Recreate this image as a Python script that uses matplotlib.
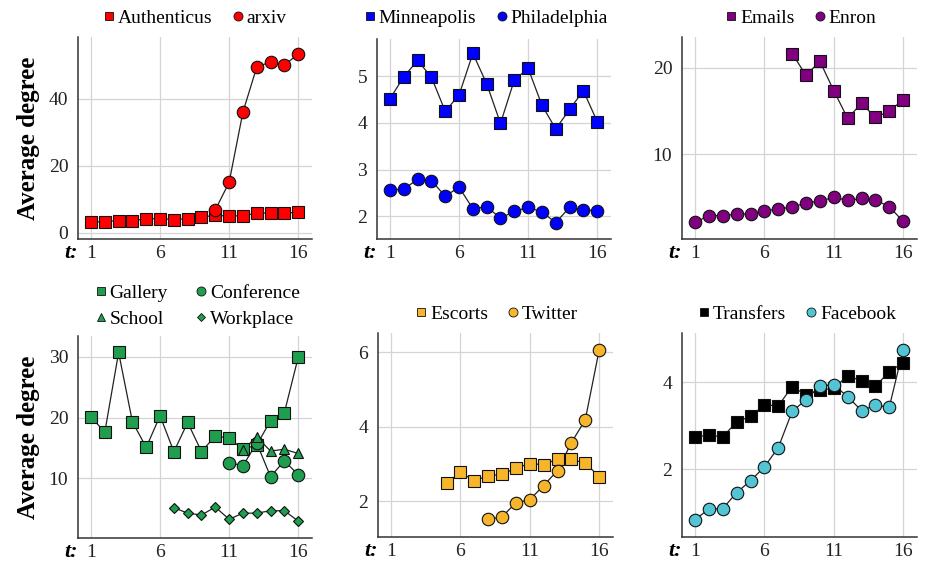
import matplotlib
matplotlib.use("Agg")
import matplotlib.pyplot as plt
from matplotlib.lines import Line2D

plt.rcParams['font.family'] = ['Liberation Serif', 'DejaVu Serif']

t = list(range(1, 17))

authenticus = [3.2, 3.4, 3.7, 3.7, 4.2, 4.3, 4.0, 4.3, 4.7, 5.3, 5.0, 5.2, 5.9, 6.0, 5.9, 6.2]
arxiv_t = [10, 11, 12, 13, 14, 15, 16]
arxiv = [6.9, 15.1, 36.1, 49.5, 51.1, 50.1, 53.4]

minneapolis = [4.52, 4.99, 5.34, 4.98, 4.25, 4.60, 5.49, 4.84, 3.99, 4.92, 5.17, 4.38, 3.87, 4.29, 4.69, 4.03]
philadelphia = [2.56, 2.58, 2.79, 2.76, 2.43, 2.62, 2.16, 2.20, 1.96, 2.10, 2.19, 2.09, 1.86, 2.19, 2.13, 2.12]

emails_t = [8, 9, 10, 11, 12, 13, 14, 15, 16]
emails = [21.67, 19.15, 20.78, 17.36, 14.15, 15.89, 14.26, 14.96, 16.32]
enron = [2.05, 2.83, 2.83, 3.02, 3.02, 3.41, 3.60, 3.84, 4.30, 4.53, 4.96, 4.61, 4.84, 4.65, 3.88, 2.17]

gallery = [20.1, 17.6, 30.7, 19.3, 15.1, 20.3, 14.4, 19.2, 14.4, 17.0, 16.6, 14.8, 15.5, 19.5, 20.8, 29.9]
conference_t = [11, 12, 13, 14, 15, 16]
conference = [12.6, 12.1, 15.8, 10.3, 12.9, 10.6]
school_t = [12, 13, 14, 15, 16]
school = [14.75, 16.8, 14.5, 14.8, 14.1]
workplace_t = [7, 8, 9, 10, 11, 12, 13, 14, 15, 16]
workplace = [5.2, 4.3, 4.0, 5.3, 3.3, 4.3, 4.3, 4.7, 4.7, 3.0]

escorts_t = [5, 6, 7, 8, 9, 10, 11, 12, 13, 14, 15, 16]
escorts = [2.49, 2.77, 2.55, 2.68, 2.72, 2.89, 3.01, 2.98, 3.13, 3.12, 3.02, 2.66]
twitter_t = [8, 9, 10, 11, 12, 13, 14, 15, 16]
twitter = [1.51, 1.58, 1.96, 2.04, 2.42, 2.82, 3.57, 4.18, 6.05]

transfers = [2.75, 2.78, 2.75, 3.09, 3.22, 3.48, 3.46, 3.90, 3.71, 3.82, 3.86, 4.15, 4.03, 3.91, 4.24, 4.45]
facebook = [0.85, 1.09, 1.10, 1.47, 1.74, 2.06, 2.50, 3.33, 3.60, 3.92, 3.94, 3.67, 3.35, 3.47, 3.43, 4.74]

xticks = [1, 6, 11, 16]

RED = '#ff0000'
BLUE = '#0000ff'
PURPLE = '#800080'
GREEN = '#1f9e4f'
ORANGE = '#f7b52c'
CYAN = '#52c4d3'
BLACK = '#000000'

W, H = 925, 562
fig = plt.figure(figsize=(9.25, 5.62), dpi=100)

def make_ax(l, r, top, bot):
    return fig.add_axes([l / W, 1 - bot / H, (r - l) / W, (bot - top) / H])

boxes = [
    (78, 312, 37, 239),
    (377, 611, 39, 239),
    (682, 917, 37, 239),
    (78, 312, 336, 538),
    (378, 613, 333, 537),
    (682, 917, 333, 537),
]
axes = [make_ax(*b) for b in boxes]

def style(ax, ylim, yticks):
    ax.set_xlim(0.06, 17.0)
    ax.set_ylim(*ylim)
    ax.set_xticks(xticks)
    ax.set_yticks(yticks)
    ax.grid(True, color='#d4d4d4', linewidth=0.9)
    ax.set_axisbelow(True)
    for s in ['top', 'right']:
        ax.spines[s].set_visible(False)
    for s in ['left', 'bottom']:
        ax.spines[s].set_color('#333333')
        ax.spines[s].set_linewidth(1.1)
    ax.tick_params(axis='both', length=0, labelsize=14, colors='#222222')
    ax.tick_params(axis='y', pad=7)
    ax.tick_params(axis='x', pad=4)
    ax.annotate('t:', xy=(0, 0), xycoords='axes fraction', xytext=(0, -3),
                textcoords='offset points', ha='right', va='top',
                fontsize=16, fontweight='bold', fontstyle='italic')

def series(ax, x, y, color, marker, ms):
    ax.plot(x, y, color='#222222', linewidth=0.9, zorder=2)
    ax.plot(x, y, linestyle='none', marker=marker, markersize=ms,
            markerfacecolor=color, markeredgecolor='#111111',
            markeredgewidth=0.8, zorder=3)

def legend(ax, items, ncol, anchor, colsp=1.0, lsp=0.2):
    handles = [Line2D([], [], linestyle='none', marker=m, markersize=ms,
                      markerfacecolor=c, markeredgecolor='#111111',
                      markeredgewidth=0.6) for (_, c, m, ms) in items]
    labels = [lab for (lab, _, _, _) in items]
    ax.legend(handles, labels, ncol=ncol, loc='lower center',
              bbox_to_anchor=anchor, frameon=False, fontsize=14,
              handlelength=0.6, handletextpad=0.15, columnspacing=colsp,
              borderaxespad=0, labelspacing=lsp, borderpad=0)

SQ = 8.5
CI = 9
LY = 1.05

ax = axes[0]
style(ax, (-1.8, 58.5), [0, 20, 40])
series(ax, t, authenticus, RED, 's', SQ)
series(ax, arxiv_t, arxiv, RED, 'o', CI)
legend(ax, [('Authenticus', RED, 's', 6), ('arxiv', RED, 'o', 6.5)], 2, (0.5, LY))

ax = axes[1]
style(ax, (1.51, 5.8), [2, 3, 4, 5])
series(ax, t, minneapolis, BLUE, 's', SQ)
series(ax, t, philadelphia, BLUE, 'o', CI)
legend(ax, [('Minneapolis', BLUE, 's', 6), ('Philadelphia', BLUE, 'o', 6.5)], 2, (0.466, LY + 0.01))

ax = axes[2]
style(ax, (0.12, 23.6), [10, 20])
series(ax, emails_t, emails, PURPLE, 's', SQ)
series(ax, t, enron, PURPLE, 'o', CI)
legend(ax, [('Emails', PURPLE, 's', 6), ('Enron', PURPLE, 'o', 6.5)], 2, (0.506, LY))

ax = axes[3]
style(ax, (0.22, 33.4), [10, 20, 30])
series(ax, t, gallery, GREEN, 's', SQ)
series(ax, conference_t, conference, GREEN, 'o', CI)
series(ax, school_t, school, GREEN, '^', 7)
series(ax, workplace_t, workplace, GREEN, 'D', 5.5)
legend(ax, [('Gallery', GREEN, 's', 6), ('School', GREEN, '^', 5.5),
            ('Conference', GREEN, 'o', 6.5), ('Workplace', GREEN, 'D', 4.5)],
       2, (0.51, 1.04), colsp=1.4, lsp=0.45)

ax = axes[4]
style(ax, (1.04, 6.51), [2, 4, 6])
series(ax, escorts_t, escorts, ORANGE, 's', SQ)
series(ax, twitter_t, twitter, ORANGE, 'o', CI)
legend(ax, [('Escorts', ORANGE, 's', 6), ('Twitter', ORANGE, 'o', 6.5)], 2, (0.506, LY))

ax = axes[5]
style(ax, (0.45, 5.13), [2, 4])
series(ax, t, transfers, BLACK, 's', SQ)
series(ax, t, facebook, CYAN, 'o', CI)
legend(ax, [('Transfers', BLACK, 's', 6), ('Facebook', CYAN, 'o', 6.5)], 2, (0.49, LY))

for ax in (axes[0], axes[3]):
    ax.set_ylabel('Average degree', fontsize=18, fontweight='bold', labelpad=6)

fig.savefig('out.png', dpi=100, facecolor='white')
